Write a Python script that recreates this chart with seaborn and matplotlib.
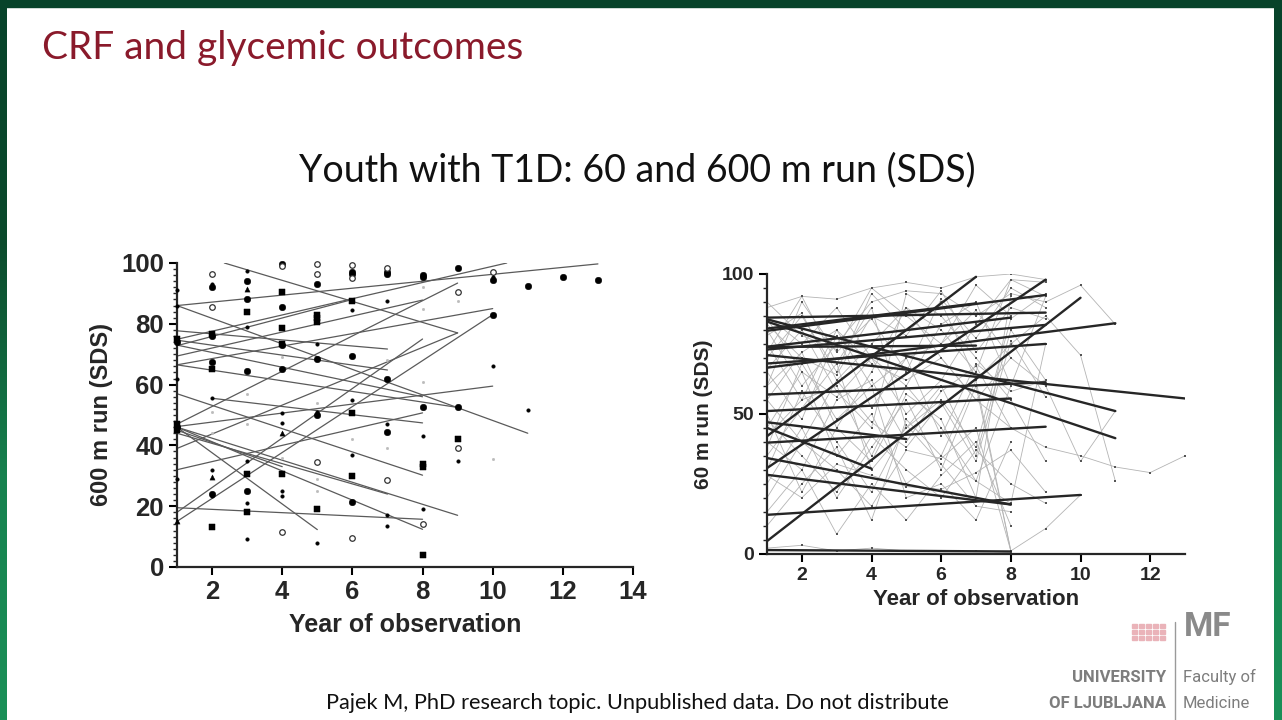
import numpy as np
import pandas as pd
import matplotlib
matplotlib.use("Agg")
import matplotlib.pyplot as plt
from matplotlib.patches import Rectangle
from matplotlib.lines import Line2D
from matplotlib.ticker import MultipleLocator
from matplotlib.colors import LinearSegmentedColormap
import seaborn as sns

sns.set_style("white")
plt.rcParams['font.family'] = ['Liberation Sans', 'DejaVu Sans']

# ---- data: left panel (600 m run) ----
left_year = ([1]*10 + [2]*16 + [3]*15 + [4]*17 + [5]*16 + [6]*14 + [7]*12 + [8]*12
             + [9]*7 + [10]*6 + [11]*2 + [12] + [13])
left_sds = [91, 86, 75, 74, 62, 47, 46, 45, 29, 15,
            96.5, 93, 92, 85.5, 76.5, 76, 67.5, 65, 55.5, 51, 44, 32, 29.5, 24, 23.5, 13,
            97.5, 94, 91.5, 88, 84, 79, 64.5, 57, 47, 35, 30.5, 25, 21, 18, 9.2,
            99.8, 99, 90.5, 85.5, 78.5, 73.5, 73, 69, 65, 50.5, 47.5, 44, 36, 30.5, 25, 23.5, 11.5,
            99.8, 96.5, 93, 83, 82, 80.5, 73.5, 68.5, 54, 51, 50, 34.5, 29, 25, 19, 8,
            99.3, 97, 96.5, 95, 87.5, 84.5, 69.5, 55, 50.5, 42, 37, 30, 21.5, 9.5,
            98.5, 97, 96.5, 87.5, 68, 62, 47, 44.5, 39, 28.5, 17, 13.5,
            96, 95.5, 92, 85, 61, 52.5, 43, 34, 33, 19, 14, 4,
            98.5, 90.5, 87.5, 52.5, 42, 39, 35,
            97, 95.5, 94.5, 83, 66, 35.5,
            92.5, 51.5,
            95.5,
            94.5]
left_kind = list("ddsfdsfsd^") + \
    list("odfosffsdttd^fds") + \
    list("df^fsdfttdsfdsd") + \
    list("fosfssftfdd^tsddo") + \
    list("oofsssdftdfottsd") + \
    list("offosdfdstdsfo") + \
    list("offdtfdftodd") + \
    list("fftttfdssdos") + \
    list("fotfsod") + \
    list("odffdt") + \
    list("fd") + ["f"] + ["f"]

# regression lines: start year, start value, end year, end value
left_x0 = [2.35, 1, 1, 1, 1, 1, 1, 1, 1, 1, 1, 1, 2, 1, 1, 1, 1, 1, 1, 1, 1, 1, 1, 1, 1]
left_y0 = [100, 86, 86, 77.7, 74.6, 74.9, 72.8, 69.4, 66.5, 66.5, 73, 57, 55.5, 46.2,
           32, 46, 46, 46, 47, 39, 45, 15, 19.5, 18, 44]
left_x1 = [9, 13, 11, 7, 7, 10.4, 6, 8, 10, 9, 8, 8, 8, 10, 8, 5, 8, 9, 9, 9, 4, 10, 8, 8, 7]
left_y1 = [77, 99.7, 44, 71.7, 64.8, 100, 88, 87.8, 85, 52.5, 56, 30.2, 47.4, 59.5,
           50.7, 12.3, 12.4, 17, 93.4, 77, 33, 83, 15.7, 75, 24]

# ---- data: right panel (60 m run) ----
grey_tracks = [
    [88, 92, 91, 95, 97, 95, 99, 100, 98],
    [80, 60, 75, 90, 94, 93, 85, 93, 90, 96, 82],
    [70, 85, 65, 93, 80, 90, 62, 75, 85, 71, 26],
    [55, 72, 45, 65, 88, 70, 55, 70, 60, 33, 51],
    [40, 30, 55, 62, 40, 58, 67, 45, 38, 35, 31, 29, 35],
    [25, 45, 20, 38, 55, 30, 60, 1, 9, 21],
    [85, 75, 88, 70, 60, 82, 90, 60],
    [60, 90, 72, 84, 65, 91, 77, 95, 88],
    [45, 65, 35, 50, 25, 35, 26, 18, 75],
    [35, 52, 68, 30, 45, 60, 35, 80, 62],
    [75, 55, 80, 60, 70, 75, 87, 70],
    [20, 40, 30, 17, 37, 34, 45, 1],
    [50, 22, 45, 33, 57, 48, 20, 92],
    [66, 80, 58, 45, 93, 85, 70, 55, 33],
    [15, 30, 7, 25, 12, 28, 40, 10],
    [30, 58, 40, 22, 46, 32, 17, 15],
    [82, 70, 64, 85, 78, 94, 72, 88, 84],
    [72, 92, 68, 88, 45, 55, 38, 84, 93],
    [90, 78, 73, 95, 85, 75, 96, 85],
    [55, 40, 62, 47, 38, 54, 33, 76, 56],
    [38, 68, 48, 60, 20, 25, 12, 40],
    [10, 25, 38, 12, 48, 35, 62, 1],
    [65, 48, 78, 52, 70, 42, 68, 58, 62],
    [78, 86, 62, 75, 88, 80, 65, 98, 92],
    [48, 35, 22, 42, 30, 20, 37, 25, 18],
    [60, 72, 80, 68, 62, 70, 55, 45],
    [2, 3, 1, 2, 1, 1, 1, 0.5],
    [84, 65, 56, 70, 50, 62, 82, 98, 97],
    [42, 55, 60, 35, 60, 45, 26, 60, 92],
    [28, 20, 32, 28, 24, 23, 29, 37, 22],
]

right_x0 = [1]*23
right_y0 = [84.4, 79.7, 80.5, 74, 73.9, 73, 66.5, 71, 42, 30.6, 4.5, 83.8, 83,
            56.9, 51, 47, 39.7, 45, 34.2, 28.2, 13.9, 1.3, 68]
right_x1 = [9, 9, 7, 8, 7, 9, 11, 13, 7, 9, 10, 11, 11, 9, 8, 5, 9, 4, 8, 8, 10, 8, 9]
right_y1 = [86.2, 92.5, 89.5, 84.4, 74.4, 81.8, 82.4, 55.5, 99, 98, 91.5, 51, 41.3,
            61.3, 55.5, 41, 45.4, 30.4, 17.6, 17.6, 21, 0.8, 75]

# ---- build tables ----
df_left_pts = pd.DataFrame({"year": left_year, "sds": left_sds, "kind": left_kind})
rows = []
for i, (a, b, c, d) in enumerate(zip(left_x0, left_y0, left_x1, left_y1)):
    rows += [(i, a, b), (i, c, d)]
df_left_lines = pd.DataFrame(rows, columns=["id", "year", "sds"])

rows = []
for i, tr in enumerate(grey_tracks):
    for j, v in enumerate(tr):
        rows.append((i, j + 1, v))
df_grey = pd.DataFrame(rows, columns=["id", "year", "sds"])
rows = []
for i, (a, b, c, d) in enumerate(zip(right_x0, right_y0, right_x1, right_y1)):
    rows += [(i, a, b), (i, c, d)]
df_right_lines = pd.DataFrame(rows, columns=["id", "year", "sds"])

# ---- figure ----
W, H = 1282, 720
fig = plt.figure(figsize=(W / 100, H / 100), dpi=100)
fig.patch.set_facecolor("white")

# green frame
grad = np.linspace(0, 1, 256).reshape(-1, 1)
frame_cmap = LinearSegmentedColormap.from_list("frame", ["#1a9058", "#17824f", "#0b4a2c", "#07432a"])
for x0, w in [(0, 7), (1274, 8)]:
    bax = fig.add_axes([x0 / W, 0, w / W, 1])
    bax.imshow(grad, aspect="auto", cmap=frame_cmap, origin="lower")
    bax.axis("off")
fig.patches.append(Rectangle((0, 1 - 7 / H), 1, 7 / H, transform=fig.transFigure,
                             color="#07432a", zorder=5))

fig.text(42 / W, 1 - 48 / H, "CRF and glycemic outcomes", color="#8a1a2b",
         fontsize=28, family="Lato", va="center", ha="left")
fig.text(637 / W, 1 - 170 / H, "Youth with T1D: 60 and 600 m run (SDS)", color="#111111",
         fontsize=27, family="Lato", va="center", ha="center")
fig.text(637 / W, 1 - 703 / H, "Pajek M, PhD research topic. Unpublished data. Do not distribute",
         color="#111111", fontsize=15.7, family="Lato", va="center", ha="center")

# ---- left panel ----
ax1 = fig.add_axes([177 / W, 1 - 567 / H, (633 - 177) / W, (567 - 263) / H])
sns.lineplot(data=df_left_lines, x="year", y="sds", units="id", estimator=None,
             color="#5a5a5a", lw=0.9, ax=ax1, legend=False)
marker_style = {
    "f": dict(marker="o", s=22, color="black", edgecolor="black"),
    "o": dict(marker="o", s=16, facecolor="white", edgecolor="#333333", linewidth=0.9),
    "s": dict(marker="s", s=20, color="black", edgecolor="black"),
    "d": dict(marker="o", s=7, color="black", edgecolor="black"),
    "t": dict(marker="o", s=4, color="#bbbbbb", edgecolor="#bbbbbb"),
    "^": dict(marker="^", s=14, color="black", edgecolor="black"),
}
for k, st in marker_style.items():
    sub = df_left_pts[df_left_pts["kind"] == k]
    sns.scatterplot(data=sub, x="year", y="sds", ax=ax1, clip_on=False, zorder=3, **st)
ax1.set_xlim(1, 14)
ax1.set_ylim(0, 100)
ax1.set_xticks([2, 4, 6, 8, 10, 12, 14])
ax1.set_yticks([0, 20, 40, 60, 80, 100])
ax1.yaxis.set_minor_locator(MultipleLocator(2))
ax1.set_xlabel("Year of observation", fontsize=18, fontweight="bold", labelpad=6)
ax1.set_ylabel("600 m run (SDS)", fontsize=17, fontweight="bold", labelpad=6)

# ---- right panel ----
ax2 = fig.add_axes([767 / W, 1 - 553.7 / H, (1185 - 767) / W, (553.7 - 274) / H])
sns.lineplot(data=df_grey, x="year", y="sds", units="id", estimator=None,
             color="#b4b4b4", lw=0.6, marker="s", markersize=1.6, markeredgewidth=0,
             ax=ax2, legend=False)
for ln in ax2.get_lines():
    ln.set_markerfacecolor("#555555")
sns.lineplot(data=df_right_lines, x="year", y="sds", units="id", estimator=None,
             color="#262626", lw=1.7, ax=ax2, legend=False)
ax2.set_xlim(1, 13)
ax2.set_ylim(0, 100)
ax2.set_xticks([2, 4, 6, 8, 10, 12])
ax2.set_yticks([0, 50, 100])
ax2.yaxis.set_minor_locator(MultipleLocator(5))
ax2.set_xlabel("Year of observation", fontsize=16, fontweight="bold", labelpad=4)
ax2.set_ylabel("60 m run (SDS)", fontsize=15, fontweight="bold", labelpad=6)

for ax, fs in [(ax1, 18.5), (ax2, 14)]:
    sns.despine(ax=ax)
    ax.set_facecolor("none")
    ax.spines["left"].set_linewidth(1.6)
    ax.spines["bottom"].set_linewidth(1.6)
    ax.tick_params(axis="both", which="major", direction="out", length=6, width=1.5,
                   labelsize=fs, color="black", bottom=True, left=True)
    ax.tick_params(axis="y", which="minor", direction="out", length=3, width=1.0, left=True)
    for lab in ax.get_xticklabels() + ax.get_yticklabels():
        lab.set_fontweight("bold")

# ---- logo ----
fig.add_artist(Line2D([1175 / W, 1175 / W], [0, 1 - 622 / H], transform=fig.transFigure,
                      color="#9a9a9a", lw=1))
fig.text(1166 / W, 1 - 677 / H, "UNIVERSITY", ha="right", va="center", fontsize=12,
         fontweight="bold", color="#7d7d7d", family="Roboto")
fig.text(1166 / W, 1 - 704 / H, "OF LJUBLJANA", ha="right", va="center", fontsize=12,
         fontweight="bold", color="#7d7d7d", family="Roboto")
fig.text(1183 / W, 1 - 677 / H, "Faculty of", ha="left", va="center", fontsize=12,
         color="#7d7d7d", family="Roboto")
fig.text(1183 / W, 1 - 704 / H, "Medicine", ha="left", va="center", fontsize=12,
         color="#7d7d7d", family="Roboto")
fig.text(1184 / W, 1 - 627 / H, "MF", ha="left", va="center", fontsize=24,
         fontweight="bold", color="#8a8a8a", family="Roboto")
for i in range(5):
    for j in range(3):
        fig.patches.append(Rectangle(((1132 + i * 7) / W, 1 - (628 + j * 6) / H), 5 / W, 4 / H,
                                     transform=fig.transFigure, color="#eab3b9"))

fig.savefig("out.png", dpi=100)
